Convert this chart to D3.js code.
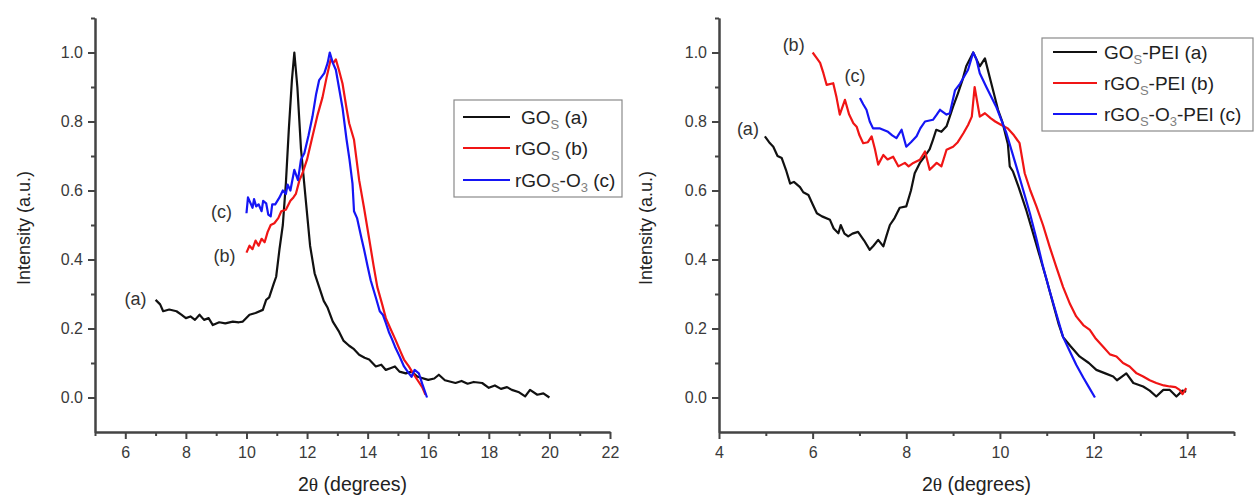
<!DOCTYPE html>
<html>
<head>
<meta charset="utf-8">
<script src="https://cdn.jsdelivr.net/npm/d3@7"></script>
<style>
  body { margin: 0; background: #fff; }
  text { font-family: "Liberation Sans", Arial, sans-serif; }
</style>
</head>
<body>
<div id="chart"></div>
<script>
// Left panel: XRD patterns, [2theta, normalized intensity]
const goS = [[7.0,0.283],[7.15,0.27],[7.25,0.25],[7.45,0.255],[7.69,0.25],[7.85,0.24],[8.0,0.23],[8.15,0.235],[8.3,0.225],[8.45,0.24],[8.6,0.225],[8.75,0.23],[8.89,0.21],[9.1,0.218],[9.3,0.215],[9.55,0.22],[9.75,0.218],[9.88,0.22],[10.1,0.24],[10.3,0.245],[10.54,0.254],[10.65,0.283],[10.75,0.29],[10.9,0.33],[10.98,0.35],[11.09,0.43],[11.2,0.5],[11.3,0.62],[11.4,0.78],[11.5,0.92],[11.58,1.0],[11.68,0.9],[11.8,0.72],[11.96,0.57],[12.1,0.44],[12.25,0.36],[12.4,0.32],[12.55,0.28],[12.68,0.26],[12.85,0.22],[13.06,0.19],[13.2,0.165],[13.39,0.15],[13.55,0.14],[13.72,0.124],[13.9,0.115],[14.05,0.11],[14.27,0.09],[14.45,0.095],[14.6,0.08],[14.75,0.085],[14.9,0.09],[15.05,0.075],[15.26,0.07],[15.45,0.075],[15.65,0.06],[16.0,0.051],[16.2,0.055],[16.35,0.066],[16.55,0.05],[16.9,0.042],[17.1,0.048],[17.3,0.04],[17.5,0.045],[17.78,0.042],[18.0,0.028],[18.2,0.035],[18.4,0.025],[18.6,0.03],[18.76,0.022],[19.0,0.015],[19.2,0.003],[19.36,0.022],[19.6,0.008],[19.8,0.012],[20.0,0.0]];
const rgoS = [[10.0,0.42],[10.1,0.44],[10.2,0.43],[10.3,0.455],[10.4,0.44],[10.5,0.46],[10.6,0.45],[10.7,0.48],[10.8,0.5],[10.92,0.505],[11.05,0.52],[11.15,0.54],[11.3,0.544],[11.45,0.57],[11.55,0.58],[11.63,0.59],[11.75,0.63],[11.85,0.65],[12.0,0.69],[12.18,0.757],[12.35,0.82],[12.51,0.87],[12.65,0.93],[12.78,0.98],[12.87,0.97],[12.95,0.98],[13.05,0.95],[13.17,0.91],[13.3,0.84],[13.39,0.795],[13.55,0.747],[13.72,0.63],[13.88,0.55],[14.05,0.46],[14.2,0.38],[14.32,0.32],[14.48,0.27],[14.6,0.23],[14.75,0.2],[14.92,0.167],[15.1,0.13],[15.2,0.11],[15.36,0.09],[15.5,0.07],[15.65,0.05],[15.8,0.03],[15.91,0.008]];
const rgoSO3 = [[10.0,0.534],[10.05,0.58],[10.1,0.57],[10.2,0.55],[10.25,0.575],[10.32,0.554],[10.4,0.56],[10.5,0.54],[10.55,0.57],[10.65,0.563],[10.72,0.53],[10.8,0.525],[10.85,0.56],[10.95,0.56],[11.09,0.58],[11.2,0.6],[11.3,0.59],[11.36,0.617],[11.45,0.6],[11.58,0.66],[11.7,0.63],[11.8,0.69],[11.91,0.708],[12.05,0.76],[12.18,0.815],[12.3,0.88],[12.4,0.92],[12.57,0.94],[12.68,0.97],[12.75,1.0],[12.85,0.97],[12.95,0.95],[13.05,0.9],[13.17,0.84],[13.3,0.75],[13.4,0.69],[13.5,0.62],[13.55,0.54],[13.65,0.52],[13.8,0.46],[13.88,0.43],[14.0,0.38],[14.1,0.34],[14.27,0.29],[14.4,0.25],[14.5,0.24],[14.6,0.216],[14.7,0.19],[14.8,0.17],[14.9,0.148],[15.05,0.12],[15.2,0.09],[15.36,0.07],[15.45,0.06],[15.55,0.08],[15.69,0.07],[15.8,0.04],[15.96,0.0]];

// Right panel: PEI-modified samples
const goSPei = [[4.98,0.757],[5.07,0.74],[5.16,0.727],[5.25,0.7],[5.34,0.694],[5.43,0.66],[5.52,0.62],[5.6,0.625],[5.73,0.61],[5.8,0.595],[5.91,0.587],[6.0,0.56],[6.09,0.534],[6.2,0.525],[6.37,0.515],[6.45,0.49],[6.55,0.476],[6.6,0.5],[6.68,0.475],[6.76,0.467],[6.85,0.475],[6.97,0.48],[7.1,0.455],[7.22,0.428],[7.3,0.44],[7.4,0.457],[7.51,0.438],[7.58,0.47],[7.65,0.5],[7.75,0.52],[7.86,0.55],[8.0,0.554],[8.1,0.6],[8.18,0.65],[8.29,0.68],[8.4,0.7],[8.5,0.72],[8.57,0.747],[8.64,0.776],[8.75,0.77],[8.86,0.786],[9.0,0.843],[9.1,0.88],[9.2,0.92],[9.28,0.96],[9.43,1.0],[9.5,0.98],[9.57,0.96],[9.68,0.983],[9.78,0.93],[9.96,0.834],[10.05,0.8],[10.17,0.735],[10.21,0.67],[10.28,0.655],[10.4,0.61],[10.57,0.54],[10.7,0.48],[10.85,0.41],[11.0,0.34],[11.14,0.27],[11.25,0.215],[11.35,0.175],[11.5,0.15],[11.7,0.119],[11.9,0.1],[12.06,0.08],[12.25,0.07],[12.42,0.061],[12.5,0.05],[12.6,0.06],[12.7,0.07],[12.85,0.042],[13.06,0.032],[13.2,0.02],[13.34,0.003],[13.49,0.022],[13.63,0.022],[13.77,0.003],[13.9,0.02],[13.98,0.017]];
const rgoSPei = [[6.0,1.0],[6.08,0.985],[6.16,0.97],[6.23,0.94],[6.3,0.906],[6.44,0.911],[6.51,0.87],[6.58,0.82],[6.69,0.863],[6.78,0.82],[6.87,0.795],[6.94,0.785],[7.0,0.76],[7.08,0.737],[7.18,0.74],[7.26,0.757],[7.33,0.72],[7.4,0.675],[7.51,0.703],[7.6,0.69],[7.72,0.698],[7.83,0.67],[7.97,0.68],[8.05,0.67],[8.15,0.68],[8.29,0.689],[8.4,0.713],[8.5,0.66],[8.65,0.68],[8.75,0.67],[8.86,0.718],[9.0,0.727],[9.1,0.74],[9.22,0.766],[9.32,0.79],[9.4,0.814],[9.46,0.9],[9.57,0.814],[9.68,0.824],[9.8,0.81],[9.9,0.8],[10.03,0.79],[10.17,0.78],[10.3,0.76],[10.42,0.737],[10.53,0.65],[10.65,0.6],[10.78,0.554],[10.92,0.5],[11.06,0.438],[11.2,0.38],[11.35,0.32],[11.5,0.27],[11.63,0.235],[11.78,0.21],[11.92,0.196],[12.05,0.17],[12.2,0.148],[12.35,0.125],[12.49,0.119],[12.63,0.1],[12.77,0.09],[12.92,0.07],[13.06,0.061],[13.2,0.05],[13.34,0.042],[13.5,0.035],[13.63,0.032],[13.75,0.03],[13.84,0.022],[13.9,0.01],[13.98,0.027]];
const rgoSO3Pei = [[7.01,0.868],[7.08,0.85],[7.15,0.834],[7.22,0.8],[7.29,0.78],[7.44,0.78],[7.61,0.77],[7.7,0.76],[7.79,0.752],[7.9,0.776],[8.0,0.727],[8.1,0.74],[8.22,0.757],[8.3,0.78],[8.4,0.8],[8.57,0.805],[8.65,0.82],[8.72,0.834],[8.86,0.82],[8.93,0.824],[9.04,0.89],[9.15,0.91],[9.32,0.95],[9.43,1.0],[9.5,0.98],[9.57,0.94],[9.71,0.9],[9.92,0.843],[10.14,0.766],[10.35,0.67],[10.5,0.6],[10.64,0.534],[10.78,0.46],[10.92,0.38],[11.06,0.31],[11.2,0.245],[11.35,0.175],[11.49,0.135],[11.63,0.095],[11.78,0.058],[11.9,0.03],[12.03,0.0]];

const leftNames = ["GO_S (a)", "rGO_S (b)", "rGO_S-O_3 (c)"];
const rightNames = ["GO_S-PEI (a)", "rGO_S-PEI (b)", "rGO_S-O_3-PEI (c)"];
const curveTags = ["(a)", "(b)", "(c)"];

const yTicks = [0, 0.2, 0.4, 0.6, 0.8, 1.0];
const yMinor = [0.1, 0.3, 0.5, 0.7, 0.9, 1.1];
const leftXTicks = [6, 8, 10, 12, 14, 16, 18, 20, 22];
const leftXMinor = [5, 7, 9, 11, 13, 15, 17, 19, 21];
const rightXTicks = [4, 6, 8, 10, 12, 14];
const rightXMinor = [5, 7, 9, 11, 13, 15];

const colors = ["#111111", "#f01515", "#1515f5"];
const axisColor = "#444";

const svg = d3
  .select("#chart")
  .append("svg")
  .attr("width", 1254)
  .attr("height", 495);

// writes labels like "rGO_S-O_3" with small grey subscripts
function addRich(textSel, label, subSize) {
  const parts = label.split(/_(\w)/);
  let shifted = false;
  parts.forEach((p, i) => {
    if (!p) return;
    const t = textSel.append("tspan").text(p);
    if (i % 2 === 1) {
      t.attr("dy", 5).attr("font-size", subSize).attr("fill", "#808080");
      shifted = true;
    } else if (shifted) {
      t.attr("dy", -5);
      shifted = false;
    }
  });
}

function styleAxis(g) {
  g.attr("font-family", null).attr("font-size", null);
  g.selectAll("path, line").attr("stroke", axisColor).attr("stroke-width", 2);
  g.selectAll("text").attr("fill", "#3a3a3a").style("font-size", "16px");
}

function drawPanel(cfg) {
  const x = d3.scaleLinear().domain(cfg.xDomain).range([cfg.left, cfg.right]);
  const y = d3.scaleLinear().domain([-0.1, 1.1]).range([432, 18]);
  const g = svg.append("g");

  // minor ticks first, majors with labels on top
  g.append("g")
    .attr("transform", `translate(0,${y(-0.1)})`)
    .call(d3.axisBottom(x).tickValues(cfg.xMinor).tickSize(4).tickSizeOuter(0).tickFormat(""))
    .call(styleAxis);
  g.append("g")
    .attr("transform", `translate(0,${y(-0.1)})`)
    .call(d3.axisBottom(x).tickValues(cfg.xTicks).tickSize(7).tickSizeOuter(0).tickPadding(8))
    .call(styleAxis);
  g.append("g")
    .attr("transform", `translate(${x(cfg.xDomain[0])},0)`)
    .call(d3.axisLeft(y).tickValues(yMinor).tickSize(4).tickSizeOuter(0).tickFormat(""))
    .call(styleAxis);
  g.append("g")
    .attr("transform", `translate(${x(cfg.xDomain[0])},0)`)
    .call(d3.axisLeft(y).tickValues(yTicks).tickSize(7).tickSizeOuter(0).tickPadding(5).tickFormat(d3.format(".1f")))
    .call(styleAxis);

  // axis titles
  const xTitle = g.append("text")
    .attr("x", (cfg.left + cfg.right) / 2)
    .attr("y", 491)
    .attr("text-anchor", "middle")
    .attr("fill", "#222")
    .style("font-size", "19.5px");
  xTitle.append("tspan").text("2");
  xTitle.append("tspan").text("θ").style("font-family", "'Liberation Serif', serif");
  xTitle.append("tspan").text(" (degrees)");

  g.append("text")
    .attr("transform", `translate(${cfg.yTitleX},228) rotate(-90)`)
    .attr("text-anchor", "middle")
    .attr("fill", "#222")
    .style("font-size", "18px")
    .text("Intensity (a.u.)");

  const line = d3.line().x((d) => x(d[0])).y((d) => y(d[1]));

  g.selectAll(".curve")
    .data(cfg.series)
    .join("path")
    .attr("class", "curve")
    .attr("d", (d) => line(d))
    .attr("fill", "none")
    .attr("stroke", (d, i) => colors[i])
    .attr("stroke-width", 2.2)
    .attr("stroke-linejoin", "round");

  // (a) (b) (c) tags next to where each curve starts
  g.selectAll(".tag")
    .data(cfg.series)
    .join("text")
    .attr("class", "tag")
    .attr("x", (d, i) => x(d[0][0]) + cfg.tagOffset[i][0])
    .attr("y", (d, i) => y(d[0][1]) + cfg.tagOffset[i][1])
    .attr("text-anchor", "middle")
    .attr("fill", "#333")
    .style("font-size", "18px")
    .text((d, i) => curveTags[i]);

  // legend
  const lg = cfg.legend;
  g.append("rect")
    .attr("x", lg.x)
    .attr("y", lg.y)
    .attr("width", lg.w)
    .attr("height", lg.h)
    .attr("fill", "#fff")
    .attr("stroke", "#8a8a8a")
    .attr("stroke-width", 1.2);
  cfg.names.forEach((name, i) => {
    const ry = lg.rows[i];
    g.append("line")
      .attr("x1", lg.lineX0)
      .attr("x2", lg.lineX1)
      .attr("y1", ry)
      .attr("y2", ry)
      .attr("stroke", colors[i])
      .attr("stroke-width", 2.2);
    const t = g.append("text")
      .attr("x", lg.textX + (lg.indent[i] || 0))
      .attr("y", ry + 6.5)
      .attr("fill", "#222")
      .style("font-size", "19px");
    addRich(t, name, "13px");
  });
}

drawPanel({
  xDomain: [5, 22],
  left: 95,
  right: 610,
  xTicks: leftXTicks,
  xMinor: leftXMinor,
  yTitleX: 30,
  series: [goS, rgoS, rgoSO3],
  names: leftNames,
  tagOffset: [[-20, 5], [-22, 9], [-25, 4.5]],
  legend: { x: 454, y: 100, w: 168, h: 97, lineX0: 463, lineX1: 510, textX: 515, indent: [6, 0, 0], rows: [117, 148, 180] },
});

drawPanel({
  xDomain: [4, 15],
  left: 719,
  right: 1234,
  xTicks: rightXTicks,
  xMinor: rightXMinor,
  yTitleX: 652,
  series: [goSPei, rgoSPei, rgoSO3Pei],
  names: rightNames,
  tagOffset: [[-17, -1.5], [-19, -2], [-5, -16]],
  legend: { x: 1042, y: 38, w: 211, h: 93, lineX0: 1053, lineX1: 1097, textX: 1104, indent: [0, 0, 0], rows: [52, 83, 114] },
});
</script>
</body>
</html>
